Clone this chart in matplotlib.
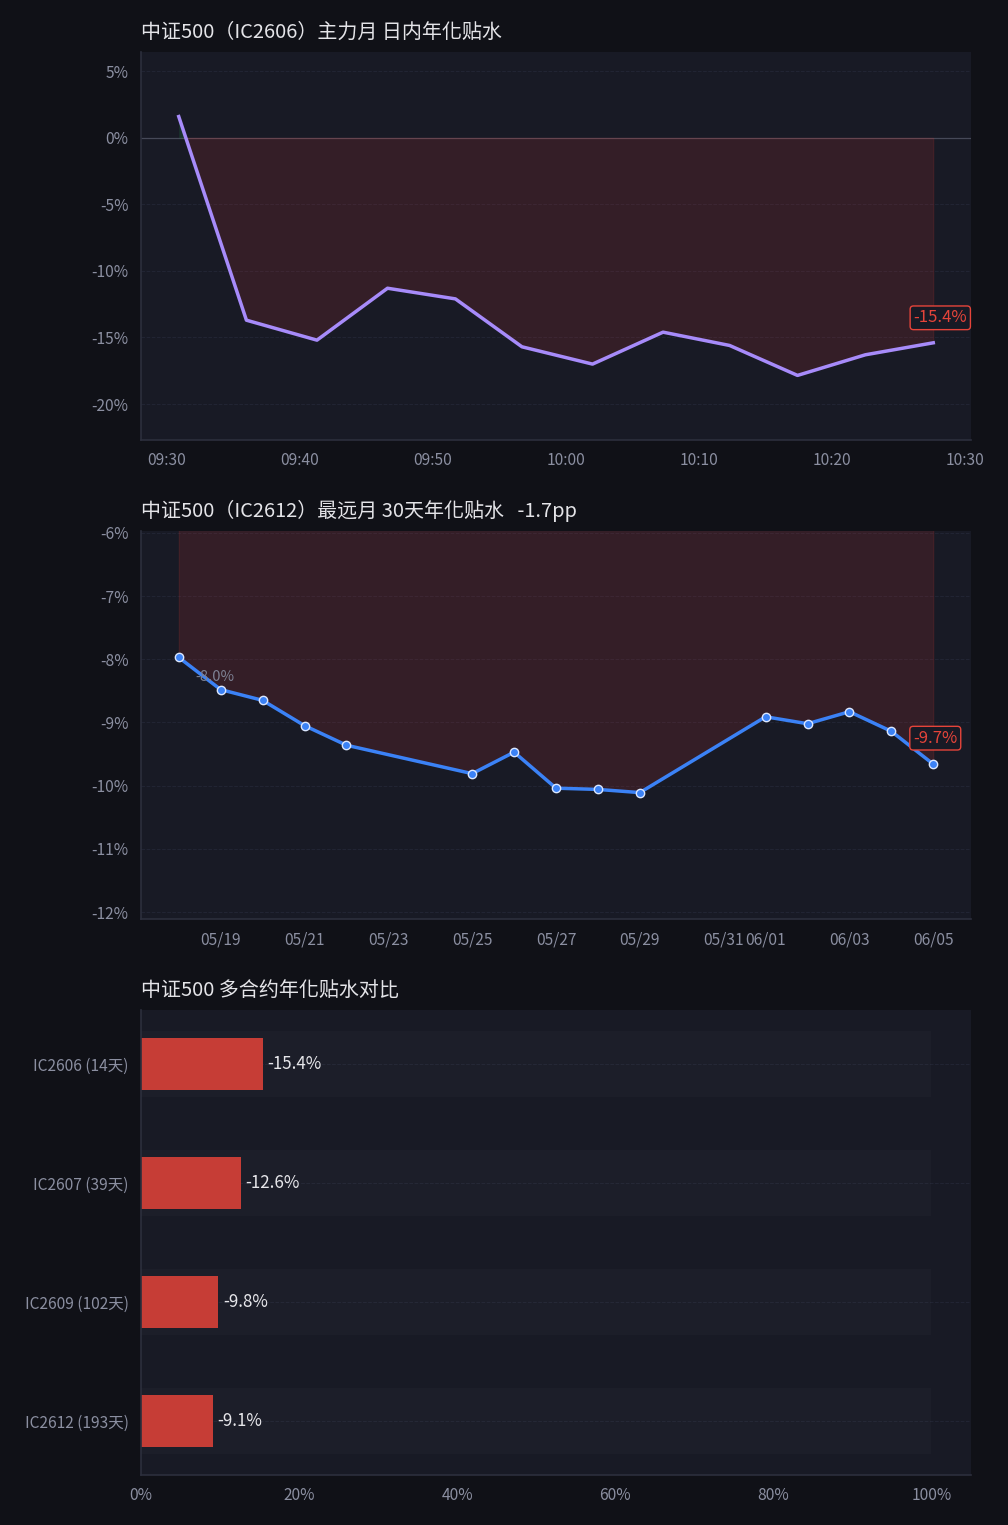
import numpy as np
import pandas as pd
import matplotlib
matplotlib.use('Agg')
import matplotlib.pyplot as plt
import matplotlib.dates as mdates
from matplotlib.ticker import FuncFormatter

plt.rcParams['font.family'] = ['Noto Sans CJK TC', 'Noto Sans CJK SC', 'DejaVu Sans']
plt.rcParams['axes.unicode_minus'] = False

# intraday annualised basis, IC2606
intraday_times = ['09:30:55', '09:36:00', '09:41:18', '09:46:36', '09:51:42', '09:56:42',
                  '10:02:00', '10:07:18', '10:12:18', '10:17:24', '10:22:30', '10:27:36']
intraday_vals = [1.6, -13.7, -15.2, -11.3, -12.1, -15.7, -17.0, -14.6, -15.6, -17.85, -16.3, -15.4]

# 30-day annualised basis, IC2612
daily_dates = ['2026-05-18', '2026-05-19', '2026-05-20', '2026-05-21', '2026-05-22',
               '2026-05-25', '2026-05-26', '2026-05-27', '2026-05-28', '2026-05-29',
               '2026-06-01', '2026-06-02', '2026-06-03', '2026-06-04', '2026-06-05']
daily_vals = [-7.97, -8.48, -8.65, -9.05, -9.36, -9.81, -9.47, -10.04, -10.06, -10.11,
              -8.91, -9.02, -8.83, -9.14, -9.66]
daily_ticks = ['2026-05-19', '2026-05-21', '2026-05-23', '2026-05-25', '2026-05-27',
               '2026-05-29', '2026-05-31', '2026-06-01', '2026-06-03', '2026-06-05']

# contract comparison
contracts = ['IC2606 (14天)', 'IC2607 (39天)', 'IC2609 (102天)', 'IC2612 (193天)']
contract_vals = [-15.4, -12.6, -9.8, -9.1]

BG = '#101117'
AX_BG = '#181a25'
SPINE = '#2c2f3d'
TICK = '#8b8fa1'
TITLE = '#e4e4e8'
RED = '#e5443a'
FILL_RED = '#e53935'
PURPLE = '#a78bfa'
BLUE = '#3b82f6'
BAR = '#c63d36'

fig = plt.figure(figsize=(10.08, 15.25), dpi=100, facecolor=BG)
ax1 = fig.add_axes([0.1399, 0.7115, 0.8234, 0.2544])
ax2 = fig.add_axes([0.1399, 0.3974, 0.8234, 0.2544])
ax3 = fig.add_axes([0.1399, 0.0328, 0.8234, 0.3049])

pct = FuncFormatter(lambda v, p: f'{v:.0f}%')


def style(ax):
    ax.set_facecolor(AX_BG)
    for s in ['top', 'right']:
        ax.spines[s].set_visible(False)
    for s in ['left', 'bottom']:
        ax.spines[s].set_color(SPINE)
        ax.spines[s].set_linewidth(1.2)
    ax.tick_params(colors=TICK, labelsize=11.2, length=0, pad=9)
    ax.grid(axis='y', color='#222534', ls='--', lw=0.7)
    ax.set_axisbelow(True)


# --- panel 1 ---
style(ax1)
t1 = pd.to_datetime(['2026-06-05 ' + t for t in intraday_times])
v1 = np.array(intraday_vals)
ax1.axhline(0, color='#464958', lw=0.9, zorder=1)
ax1.fill_between(t1, v1, 0, where=v1 <= 0, interpolate=True, color=FILL_RED, alpha=0.14,
                 edgecolor=FILL_RED, lw=0.8, zorder=1)
ax1.fill_between(t1, v1, 0, where=v1 >= 0, interpolate=True, color='#22c55e', alpha=0.15,
                 lw=0, zorder=1)
ax1.plot(t1, v1, color=PURPLE, lw=2.5, zorder=3)
ax1.set_ylim(-22.7, 6.45)
ax1.set_yticks([5, 0, -5, -10, -15, -20])
ax1.yaxis.set_major_formatter(pct)
ax1.xaxis.set_major_locator(mdates.MinuteLocator(byminute=[0, 10, 20, 30, 40, 50]))
ax1.xaxis.set_major_formatter(mdates.DateFormatter('%H:%M'))
ax1.annotate(f'{intraday_vals[-1]:.1f}%', (t1[-1], v1[-1]), xytext=(7, 25),
             textcoords='offset pixels', ha='center', va='center', color=RED, fontsize=12,
             bbox=dict(boxstyle='round,pad=0.2', fc=AX_BG, ec=RED, lw=1), zorder=5)
ax1.set_title('中证500（IC2606）主力月 日内年化贴水', loc='left', color=TITLE, fontsize=14.4, pad=10)

# --- panel 2 ---
style(ax2)
t2 = pd.to_datetime(daily_dates)
v2 = np.array(daily_vals)
ax2.fill_between(t2, v2, 0, color=FILL_RED, alpha=0.14, edgecolor=FILL_RED, lw=0.8, zorder=1)
ax2.plot(t2, v2, color=BLUE, lw=2.5, marker='o', ms=6, mfc=BLUE, mec='#dbe7ff', mew=1, zorder=3)
ax2.set_ylim(v2.min() - 2, v2.max() + 2)
ax2.set_yticks([-6, -7, -8, -9, -10, -11, -12])
ax2.yaxis.set_major_formatter(pct)
ax2.set_xticks(pd.to_datetime(daily_ticks))
ax2.xaxis.set_major_formatter(mdates.DateFormatter('%m/%d'))
ax2.annotate(f'{daily_vals[0]:.1f}%', (t2[0], v2[0]), xytext=(17, -20),
             textcoords='offset pixels', ha='left', va='center', color='#7d8193', fontsize=10.6,
             zorder=4)
ax2.annotate(f'{daily_vals[-1]:.1f}%', (t2[-1], v2[-1]), xytext=(2, 26),
             textcoords='offset pixels', ha='center', va='center', color=RED, fontsize=12,
             bbox=dict(boxstyle='round,pad=0.2', fc=AX_BG, ec=RED, lw=1), zorder=5)
chg = daily_vals[-1] - daily_vals[0]
ax2.set_title(f'中证500（IC2612）最远月 30天年化贴水   {chg:.1f}pp', loc='left', color=TITLE,
              fontsize=14.4, pad=10)

# --- panel 3 ---
style(ax3)
y3 = np.arange(len(contracts))
ax3.barh(y3, [100] * len(contracts), height=0.55, color='#ffffff', alpha=0.018, zorder=1)
ax3.barh(y3, np.abs(contract_vals), height=0.44, color=BAR, zorder=2)
for yi, v in zip(y3, contract_vals):
    ax3.text(abs(v) + 0.6, yi, f'{v:.1f}%', va='center', ha='left', color='#e6e6ea', fontsize=12.2)
ax3.set_yticks(y3)
ax3.set_yticklabels(contracts)
ax3.invert_yaxis()
ax3.set_xticks([0, 20, 40, 60, 80, 100])
ax3.xaxis.set_major_formatter(pct)
ax3.set_title('中证500 多合约年化贴水对比', loc='left', color=TITLE, fontsize=14.4, pad=10)

fig.savefig('out.png', dpi=100, facecolor=BG)
